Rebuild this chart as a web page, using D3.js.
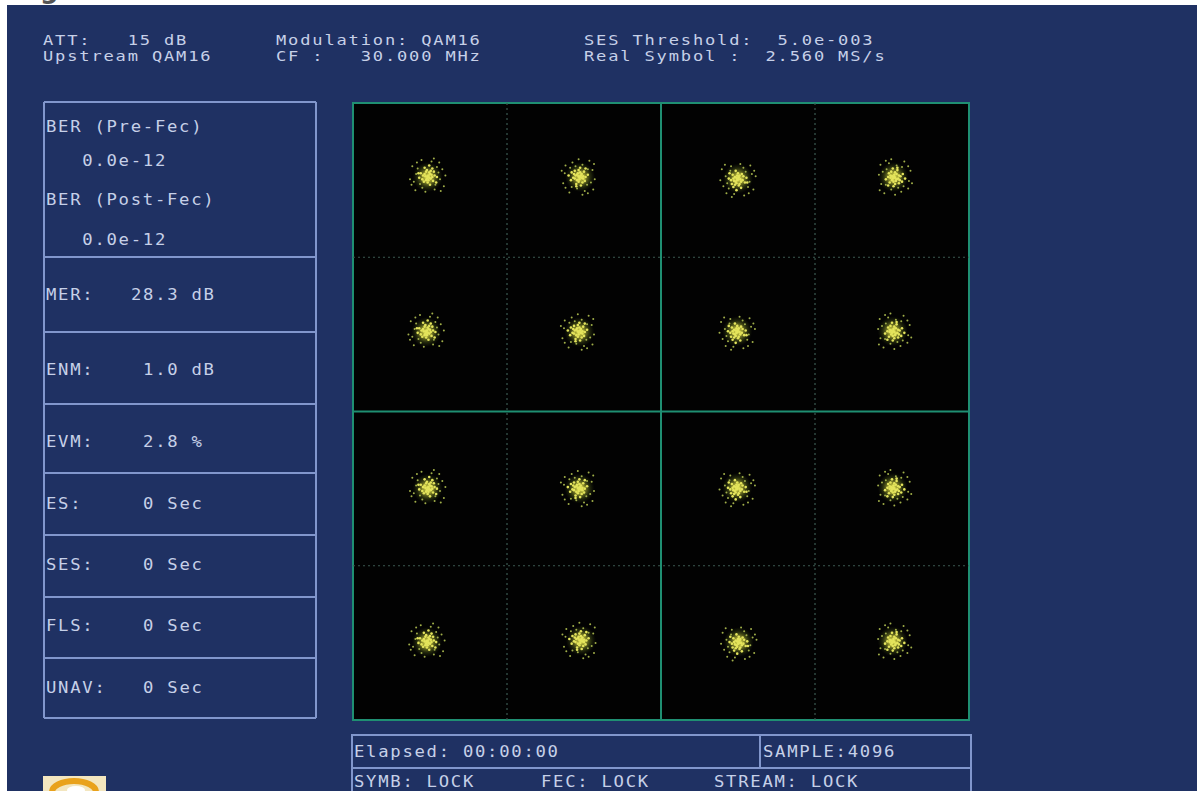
<!DOCTYPE html>
<html><head><meta charset="utf-8">
<script src="https://cdn.jsdelivr.net/npm/d3@7"></script>
<style>
html,body{margin:0;padding:0;background:#fff;}
svg{display:block;}
text{font-family:"DejaVu Sans Mono",monospace;white-space:pre;}
</style></head>
<body>
<svg id="c" width="1197" height="791"></svg>
<script>
// ---- data ----
const headerCol1 = ["ATT:   15 dB", "Upstream QAM16"];
const headerCol2 = ["Modulation: QAM16", "CF :   30.000 MHz"];
const headerCol3 = ["SES Threshold:  5.0e-003", "Real Symbol :  2.560 MS/s"];
const berLines = ["BER (Pre-Fec)", "   0.0e-12", "BER (Post-Fec)", "   0.0e-12"];
const metricLabels = ["MER:", "ENM:", "EVM:", "ES:", "SES:", "FLS:", "UNAV:"];
const metricValues = ["28.3 dB", " 1.0 dB", " 2.8 %", " 0 Sec", " 0 Sec", " 0 Sec", " 0 Sec"];
const statusRow1 = ["Elapsed: 00:00:00", "SAMPLE:4096"];
const statusRow2 = ["SYMB: LOCK", "FEC: LOCK", "STREAM: LOCK"];
// constellation cluster centres (I, Q)
const clusterI = [-3.03,-1.05, 1.00, 3.02,  -3.05,-1.06, 0.99, 3.01,  -3.03,-1.06, 0.99, 3.01,  -3.04,-1.04, 1.01, 3.01];
const clusterQ = [ 3.04, 3.04, 3.02, 3.04,   1.03, 1.03, 1.04, 1.04,  -1.00,-1.00,-0.99,-0.99,  -2.99,-2.97,-2.99,-2.98];
// scatter of received symbols around each centre (I/Q units)
const noiseI = [0.01,-0.03,0.04,-0.02,0.05,-0.06,0.02,0.00,0.07,-0.05,0.08,-0.09,0.03,-0.11,0.12,0.06,-0.04,-0.10,0.10,0.14,-0.15,0.02,-0.07,0.16,-0.13,0.12,0.09,-0.18,0.19,-0.03,0.05,-0.20,0.21,-0.16,0.15,-0.08,0.23,-0.23,0.00,0.02,-0.01,0.03,-0.04,0.01,0.06,-0.02,0.04,-0.07,0.09,-0.12,0.11,-0.01,0.17,-0.21,0.08,-0.14];
const noiseQ = [0.02,0.01,-0.02,-0.04,0.03,0.02,0.06,-0.07,-0.05,-0.06,0.07,0.05,-0.10,-0.01,0.00,0.11,0.12,-0.09,-0.10,0.06,0.04,0.15,-0.14,-0.03,0.11,0.13,-0.16,-0.06,0.10,-0.19,0.20,0.14,-0.12,-0.17,0.19,0.22,0.02,-0.03,0.01,-0.01,-0.02,0.04,0.04,-0.04,0.00,0.07,0.08,-0.03,0.02,0.05,-0.07,0.09,-0.18,-0.10,0.24,0.19];
const gridSolid = [0];
const gridDashed = [-2, 2];

// ---- drawing ----
const svg = d3.select("#c");
const BG = "#1f3163", LINE = "#8196cc", TXT = "#c6d0e8", GREEN = "#1f8f72";
const ADV = 12.1;

svg.append("rect").attr("x",7).attr("y",5).attr("width",1190).attr("height",786).attr("fill",BG);
svg.append("text").attr("x",40).attr("y",-2).attr("font-size",26).attr("font-weight","bold")
  .attr("fill","#555").style("font-family","DejaVu Sans").text("g");

function mono(sel, size){
  sel.attr("font-size",size).attr("letter-spacing","1.5px")
     .attr("textLength",d=>d.length*ADV).attr("lengthAdjust","spacingAndGlyphs");
  return sel;
}

// header
const hdr = svg.append("g").attr("fill",TXT);
[[headerCol1,43],[headerCol2,276],[headerCol3,584]].forEach(([arr,x])=>{
  mono(hdr.selectAll(null).data(arr).join("text"),14)
    .attr("x",x).attr("y",(d,i)=>i===0?45:61).text(d=>d);
});

// left panel
const pL = 44, pR = 316;
const dividers = [102,257,332,404,473,535,597,658,718];
svg.append("g").selectAll("line").data(dividers).join("line")
  .attr("x1",pL).attr("x2",pR).attr("y1",d=>d).attr("y2",d=>d)
  .attr("stroke",LINE).attr("stroke-width",2);
[pL,pR].forEach(x=>svg.append("line").attr("x1",x).attr("x2",x).attr("y1",102).attr("y2",718)
  .attr("stroke",LINE).attr("stroke-width",2));
const pt = svg.append("g").attr("fill",TXT);
const berY = [132,166,205,245];
mono(pt.selectAll(null).data(berLines).join("text"),15).attr("x",46).attr("y",(d,i)=>berY[i]).text(d=>d);
const metY = [300,375,447,509,570,631,693];
mono(pt.selectAll(null).data(metricLabels).join("text"),15).attr("x",46).attr("y",(d,i)=>metY[i]).text(d=>d);
mono(pt.selectAll(null).data(metricValues).join("text"),15).attr("x",131).attr("y",(d,i)=>metY[i]).text(d=>d);

// constellation
const x = d3.scaleLinear().domain([-4,4]).range([353,969]);
const y = d3.scaleLinear().domain([-4,4]).range([720,103]);
svg.append("rect").attr("x",x(-4)).attr("y",y(4)).attr("width",x(4)-x(-4)).attr("height",y(-4)-y(4))
  .attr("fill","#020202").attr("stroke",GREEN).attr("stroke-width",2);
const grid = svg.append("g");
gridDashed.forEach(v=>{
  grid.append("line").attr("x1",x(v)).attr("x2",x(v)).attr("y1",y(4)).attr("y2",y(-4))
    .attr("stroke","#3c5a52").attr("stroke-width",1.2).attr("stroke-dasharray","2,3");
  grid.append("line").attr("x1",x(-4)).attr("x2",x(4)).attr("y1",y(v)).attr("y2",y(v))
    .attr("stroke","#3c5a52").attr("stroke-width",1.2).attr("stroke-dasharray","2,3");
});
gridSolid.forEach(v=>{
  grid.append("line").attr("x1",x(v)).attr("x2",x(v)).attr("y1",y(4)).attr("y2",y(-4))
    .attr("stroke",GREEN).attr("stroke-width",2);
  grid.append("line").attr("x1",x(-4)).attr("x2",x(4)).attr("y1",y(v)).attr("y2",y(v))
    .attr("stroke",GREEN).attr("stroke-width",2);
});
const defs = svg.append("defs");
const rg = defs.append("radialGradient").attr("id","glow");
rg.append("stop").attr("offset","0%").attr("stop-color","#f0ee58").attr("stop-opacity",1);
rg.append("stop").attr("offset","35%").attr("stop-color","#c4c63c").attr("stop-opacity",0.7);
rg.append("stop").attr("offset","70%").attr("stop-color","#6e8024").attr("stop-opacity",0.3);
rg.append("stop").attr("offset","100%").attr("stop-color","#4a5a18").attr("stop-opacity",0);
defs.append("filter").attr("id","soft").append("feGaussianBlur").attr("stdDeviation",0.6);
const clusters = clusterI.map((v,i)=>({I:v,Q:clusterQ[i],k:i}));
const cg = svg.append("g");
cg.selectAll("circle.glow").data(clusters).join("circle").attr("class","glow")
  .attr("cx",d=>x(d.I)).attr("cy",d=>y(d.Q)).attr("r",15).attr("fill","url(#glow)");
const pts = [];
clusters.forEach(c=>{
  noiseI.forEach((ni,j)=>{
    const nq = noiseQ[j];
    const r = c.k % 4; // orientation of the shared scatter pattern
    const a = r===0?[ni,nq]:r===1?[-nq,ni]:r===2?[-ni,-nq]:[nq,-ni];
    pts.push({I:c.I+a[0], Q:c.Q+a[1], far: Math.abs(ni)+Math.abs(nq) > 0.18});
  });
});
cg.append("g").attr("filter","url(#soft)").selectAll("circle").data(pts).join("circle")
  .attr("cx",d=>x(d.I)).attr("cy",d=>y(d.Q)).attr("r",d=>d.far?1.0:1.3)
  .attr("fill",d=>d.far?"#a0ae48":"#e4e45c");

// bottom status boxes
const sb = svg.append("g").attr("fill","none").attr("stroke",LINE).attr("stroke-width",2);
sb.append("rect").attr("x",352).attr("y",735).attr("width",619).attr("height",33);
sb.append("rect").attr("x",352).attr("y",768).attr("width",619).attr("height",40);
sb.append("line").attr("x1",760).attr("x2",760).attr("y1",735).attr("y2",768);
const st = svg.append("g").attr("fill",TXT);
const s1x = [354,763];
mono(st.selectAll(null).data(statusRow1).join("text"),15).attr("x",(d,i)=>s1x[i]).attr("y",757).text(d=>d);
const s2x = [354,541,714];
mono(st.selectAll(null).data(statusRow2).join("text"),15).attr("x",(d,i)=>s2x[i]).attr("y",787).text(d=>d);

// logo
const lg = svg.append("g");
lg.append("rect").attr("x",43).attr("y",776).attr("width",63).attr("height",20).attr("fill","#f3e6bf");
lg.append("ellipse").attr("cx",74).attr("cy",792).attr("rx",22).attr("ry",11)
  .attr("fill","none").attr("stroke","#e9a21c").attr("stroke-width",6);
lg.append("ellipse").attr("cx",76).attr("cy",790).attr("rx",9).attr("ry",4).attr("fill","#ffffff");
</script>
</body></html>
